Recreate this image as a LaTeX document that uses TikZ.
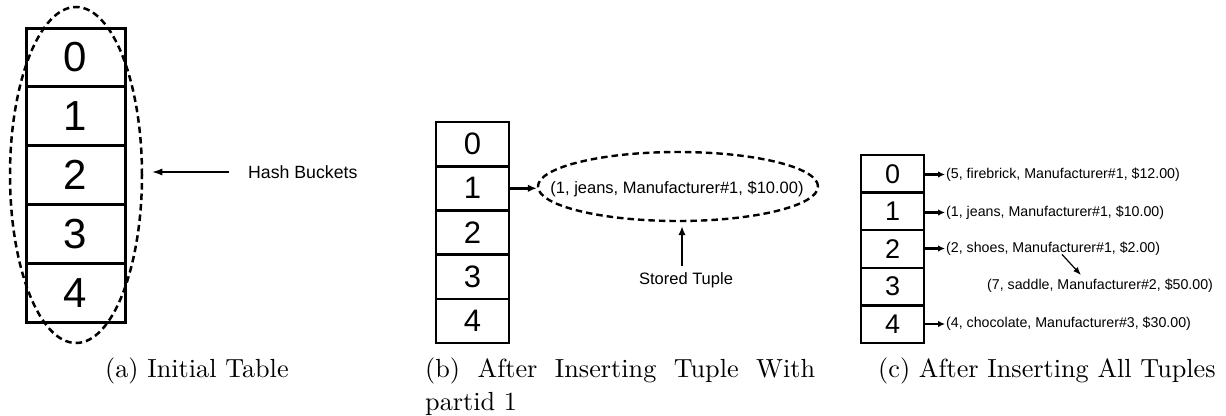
\documentclass[tikz,border=0pt]{standalone}
\usepackage{fontspec}
\newfontfamily\capfont{lmroman10-regular.otf}
\newfontfamily\sansf{Liberation Sans}
\usetikzlibrary{arrows.meta,shapes.geometric,calc}

\tikzset{
  cellA/.style={draw, line width=3pt, minimum width=99pt, minimum height=58.8pt,
    inner sep=0pt, font=\sansf\fontsize{42}{48}\selectfont},
  cellB/.style={draw, line width=2.6pt, minimum width=73pt, minimum height=44.2pt,
    inner sep=0pt, font=\sansf\fontsize{31}{36}\selectfont},
  cellC/.style={draw, line width=2.3pt, minimum width=63pt, minimum height=37.6pt,
    inner sep=0pt, font=\sansf\fontsize{27}{32}\selectfont},
  bucketring/.style={draw, ellipse, line width=2.5pt, dash pattern=on 6.5pt off 4pt,
    inner sep=0pt},
  tupleB/.style={font=\sansf\fontsize{16.5}{19}\selectfont, inner sep=0pt},
  tupleC/.style={font=\sansf\fontsize{14.2}{17}\selectfont, inner sep=0pt, anchor=west},
  caption/.style={font=\capfont\fontsize{26.2}{31.4}\selectfont, inner sep=0pt, anchor=base west},
  thinarrow/.style={line width=1.3pt, -{Latex[length=10pt,width=7pt]}},
  thickarrow/.style={line width=2.8pt, -{Latex[length=9pt,width=7.5pt]}},
  rowarrow/.style={line width=2.4pt, -{Latex[length=7pt,width=6.5pt]}},
}

\begin{document}
\begin{tikzpicture}[x=1pt,y=-1pt]
\useasboundingbox (0,0) rectangle (1226,415);

% (a) empty table with its buckets ringed
\foreach \i in {0,...,4}
  \node[cellA] (a\i) at (75.5,{57.4+58.8*\i}) {\i};
\node[bucketring, minimum width=132pt, minimum height=336pt] (ring) at (76,175) {};
\node[font=\sansf\fontsize{17.7}{21}\selectfont, inner sep=0pt, anchor=west] (hb) at (248,172) {Hash Buckets};
\draw[thinarrow, shorten <=19pt, shorten >=9pt] (hb.west) -- (ring.east |- hb.west);
\node[caption] (capa) at (105,377) {(a) Initial Table};

% (b) one tuple stored in bucket 1
\foreach \i in {0,...,4}
  \node[cellB] (b\i) at (472.5,{144.1+44.2*\i}) {\i};
\node[bucketring, minimum width=280pt, minimum height=69pt, line width=2.4pt] (stored) at (678,186.5) {};
\node[tupleB] (tb) at (677,189) {(1, jeans, Manufacturer\#1, \$10.00)};
\draw[thickarrow] (b1.east) -- (stored.west |- b1.east);
\node[tupleB] (st) at (686,280) {Stored Tuple};
\draw[thickarrow, shorten >=4pt] ($(st.north)+(-4,-6)$) -- ($(stored.south)+(4,0)$);
\node[caption] (capb) at (425,377) {\hbox to 390pt{(b)\hfill After\hfill Inserting\hfill Tuple\hfill With}};
\node[caption] (capb2) at (425,410) {partid 1};

% (c) all tuples, with a chained entry under bucket 2
\foreach \i in {0,...,4}
  \node[cellC] (c\i) at (892.5,{173.8+37.6*\i}) {\i};
\node[tupleC] (t0) at (946,174.5) {(5, firebrick, Manufacturer\#1, \$12.00)};
\node[tupleC] (t1) at (946,212.5) {(1, jeans, Manufacturer\#1, \$10.00)};
\node[tupleC] (t2) at (946,248.5) {(2, shoes, Manufacturer\#1, \$2.00)};
\node[tupleC] (t7) at (987,286) {(7, saddle, Manufacturer\#2, \$50.00)};
\node[tupleC] (t4) at (946,324) {(4, chocolate, Manufacturer\#3, \$30.00)};
\draw[rowarrow, shorten >=1pt] (c0.east |- t0.west) -- (t0.west);
\draw[rowarrow, shorten >=1pt] (c1.east |- t1.west) -- (t1.west);
\draw[rowarrow, shorten >=1pt] (c2.east |- t2.west) -- (t2.west);
\draw[rowarrow, shorten >=1pt] (c4.east |- t4.west) -- (t4.west);
\draw[line width=1.2pt, -{Latex[length=8pt,width=6pt]}] ($(t2.south west)+(116,-1)$) -- ($(t7.north west)+(94,-4)$);
\node[caption] (capc) at (878,377) {(c) After Inserting All Tuples};
\end{tikzpicture}
\end{document}
